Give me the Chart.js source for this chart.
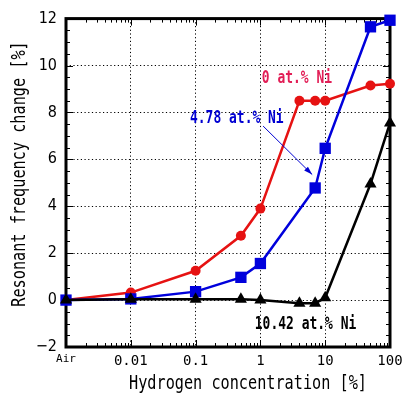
<!DOCTYPE html>
<html>
<head>
<meta charset="utf-8">
<style>
  html, body { margin: 0; padding: 0; background: #fff; }
</style>
<script src="https://cdn.jsdelivr.net/npm/chart.js@4/dist/chart.umd.min.js"></script>
</head>
<body>
<canvas id="myChart" width="405" height="396"></canvas>
<script>
// 0.001 on the x axis stands for "Air"
const AIR = 0.001
const xAll = [AIR, 0.01, 0.1, 0.5, 1, 4, 7, 10, 50, 100]
const xBlue = [AIR, 0.01, 0.1, 0.5, 1, 7, 10, 50, 100]

const ni0 = [0, 0.32, 1.25, 2.74, 3.9, 8.5, 8.5, 8.5, 9.15, 9.22]
const ni478 = [0, 0.05, 0.36, 0.97, 1.56, 4.78, 6.47, 11.65, 11.93]
const ni1042 = [0, 0.04, 0.04, 0.04, 0.0, -0.13, -0.13, 0.1, 4.95, 7.55]

const xTickLabels = { 0.001: 'Air', 0.01: '0.01', 0.1: '0.1', 1: '1', 10: '10', 100: '100' }

const RED = 'rgb(230,18,18)'
const BLUE = 'rgb(0,0,220)'
const BLACK = '#000'
const MONO = "'DejaVu Sans Mono', monospace"

// annotation text, placed in data units
const notes = [
    { text: '0 at.% Ni', x: 1.05, y: 9.47, color: 'rgb(226,30,86)' },
    { text: '4.78 at.% Ni', x: 0.082, y: 7.75, color: 'rgb(0,0,210)' },
    { text: '10.42 at.% Ni', x: 0.82, y: -1.03, color: '#000' }
]
const arrow = { from: [1.1, 7.42], to: [6.3, 5.35] }

function pts(xs, ys) {
    return xs.map((v, i) => ({ x: v, y: ys[i] }))
}

// draws horizontally squeezed text, font is roughly MS Gothic shaped
function squeezed(ctx, text, x, y, size, bold, color, sx, align, rot) {
    ctx.save()
    ctx.translate(x, y)
    if (rot) ctx.rotate(rot)
    ctx.scale(sx, 1)
    ctx.font = (bold ? 'bold ' : '') + size + 'px ' + MONO
    ctx.fillStyle = color
    ctx.textAlign = align
    ctx.textBaseline = 'middle'
    ctx.fillText(text, 0, 0)
    ctx.restore()
}

const decor = {
    id: 'decor',
    beforeDatasetsDraw(chart) {
        const { ctx, chartArea: a, scales: { x, y } } = chart
        ctx.save()
        ctx.strokeStyle = '#000'
        ctx.lineWidth = 1
        ctx.beginPath()
        for (let e = -3; e <= 1; e++) {
            for (let m = 1; m <= 9; m++) {
                const px = Math.round(x.getPixelForValue(m * Math.pow(10, e))) + 0.5
                const len = m == 1 ? 7 : 4
                ctx.moveTo(px, a.bottom); ctx.lineTo(px, a.bottom - len)
                ctx.moveTo(px, a.top); ctx.lineTo(px, a.top + len)
            }
        }
        for (let v = -2; v <= 12; v += 0.5) {
            const py = Math.round(y.getPixelForValue(v)) + 0.5
            const len = v % 2 == 0 ? 7 : 4
            ctx.moveTo(a.left, py); ctx.lineTo(a.left + len, py)
            ctx.moveTo(a.right, py); ctx.lineTo(a.right - len, py)
        }
        ctx.stroke()
        ctx.lineWidth = 3
        ctx.strokeRect(a.left, a.top, a.width, a.height)
        ctx.restore()
    },
    afterDraw(chart) {
        const { ctx, scales: { x, y } } = chart

        // axis titles
        squeezed(ctx, 'Hydrogen concentration [%]', 248, 384, 19, false, '#000', 0.8, 'center')
        squeezed(ctx, 'Resonant frequency change [%]', 20, 174, 19, false, '#000', 0.8, 'center', -Math.PI / 2)

        notes.forEach(n => {
            squeezed(ctx, n.text, x.getPixelForValue(n.x), y.getPixelForValue(n.y), 18, true, n.color, 0.72, 'left')
        })

        // arrow to the 4.78 curve
        const x0 = x.getPixelForValue(arrow.from[0]), y0 = y.getPixelForValue(arrow.from[1])
        const x1 = x.getPixelForValue(arrow.to[0]), y1 = y.getPixelForValue(arrow.to[1])
        const ang = Math.atan2(y1 - y0, x1 - x0)
        ctx.save()
        ctx.strokeStyle = 'rgb(0,0,210)'
        ctx.fillStyle = 'rgb(0,0,210)'
        ctx.lineWidth = 1
        ctx.beginPath()
        ctx.moveTo(x0, y0)
        ctx.lineTo(x1, y1)
        ctx.stroke()
        ctx.beginPath()
        ctx.moveTo(x1, y1)
        ctx.lineTo(x1 - 9 * Math.cos(ang - 0.3), y1 - 9 * Math.sin(ang - 0.3))
        ctx.lineTo(x1 - 9 * Math.cos(ang + 0.3), y1 - 9 * Math.sin(ang + 0.3))
        ctx.closePath()
        ctx.fill()
        ctx.restore()
    }
}

const chart = new Chart('myChart', {
    type: 'line',
    data: {
        datasets: [
            {
                data: pts(xAll, ni1042), borderColor: BLACK, backgroundColor: BLACK,
                pointStyle: 'triangle', pointRadius: 7, pointBorderWidth: 0, borderWidth: 2.5
            },
            {
                data: pts(xBlue, ni478), borderColor: BLUE, backgroundColor: BLUE,
                pointStyle: 'rect', pointRadius: 8, pointBorderWidth: 0, borderWidth: 2.5
            },
            {
                data: pts(xAll, ni0), borderColor: RED, backgroundColor: RED,
                pointStyle: 'circle', pointRadius: 5, pointBorderWidth: 0, borderWidth: 2.5
            }
        ]
    },
    options: {
        responsive: false,
        animation: false,
        clip: false,
        layout: { padding: { left: 0, right: 15, top: 15, bottom: 0 } },
        plugins: { legend: { display: false }, tooltip: { enabled: false } },
        elements: { line: { tension: 0 }, point: { borderWidth: 0 } },
        scales: {
            x: {
                type: 'logarithmic',
                min: 0.001,
                max: 100,
                afterFit: s => { s.height = 49 },
                afterBuildTicks: s => {
                    s.ticks = Object.keys(xTickLabels).map(v => ({ value: +v }))
                },
                ticks: {
                    autoSkip: false,
                    maxRotation: 0,
                    padding: 6,
                    color: '#000',
                    font: c => c.tick && c.tick.value == AIR
                        ? { family: MONO, size: 11 }
                        : { family: MONO, size: 14 },
                    callback: v => xTickLabels[v] || ''
                },
                grid: {
                    drawTicks: false,
                    color: c => (c.tick && (c.tick.value == AIR || c.tick.value == 100)) ? 'rgba(0,0,0,0)' : '#000',
                    lineWidth: 1
                },
                border: { display: false, dash: [1.2, 2.5] }
            },
            y: {
                min: -2,
                max: 12,
                afterFit: s => { s.width = 66 },
                ticks: {
                    stepSize: 2,
                    padding: 9,
                    color: '#000',
                    font: { family: "'Liberation Sans Narrow', 'DejaVu Sans Condensed', sans-serif", size: 16 },
                    callback: v => v < 0 ? '\u22122' : v
                },
                grid: {
                    drawTicks: false,
                    color: c => (c.tick && (c.tick.value == -2 || c.tick.value == 12)) ? 'rgba(0,0,0,0)' : '#000',
                    lineWidth: 1
                },
                border: { display: false, dash: [1.2, 2.5] }
            }
        }
    },
    plugins: [decor]
})
</script>
</body>
</html>
